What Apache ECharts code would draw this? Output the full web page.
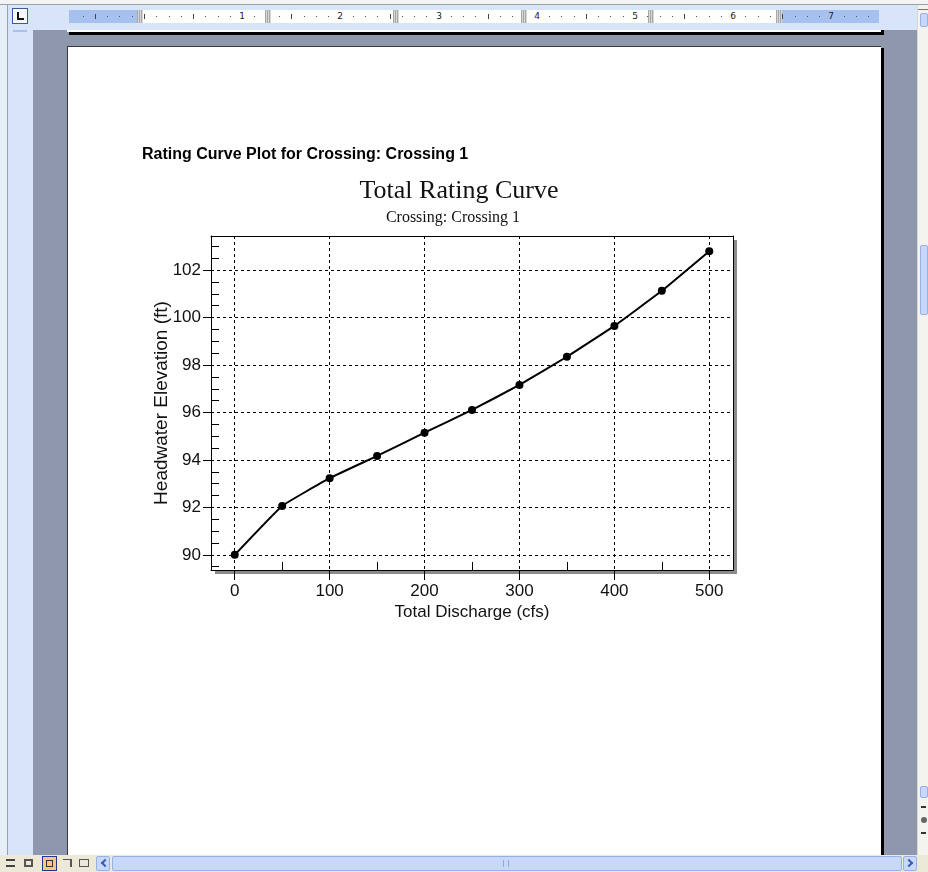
<!DOCTYPE html>
<html>
<head>
<meta charset="utf-8">
<script src="https://cdn.jsdelivr.net/npm/echarts@6/dist/echarts.min.js"></script>
<style>
  html, body { margin: 0; padding: 0; }
  body { width: 928px; height: 872px; overflow: hidden; position: relative; background: #8e97ac; font-family: 'DejaVu Sans', sans-serif; }
  .a { position: absolute; box-sizing: border-box; }
  #chart { position: absolute; left: 0; top: 0; width: 928px; height: 872px; z-index: 10; }
  .rnum { position: absolute; top: 10px; height: 13px; line-height: 13px; font-size: 9px; color: #222; width: 10px; margin-left: -5px; text-align: center; }
  .btn { background: #c8d8fb; border: 1px solid #98b1e4; border-radius: 2px; }
</style>
</head>
<body>
<!-- window frame and ruler strip -->
<div class="a" style="left:0;top:0;width:928px;height:4px;background:#f4f4f4;"></div>
<div class="a" style="left:0;top:4px;width:928px;height:1px;background:#9aa0a8;"></div>
<div class="a" style="left:0;top:5px;width:928px;height:25px;background:#d8e4f8;"></div>
<div class="a" style="left:0;top:5px;width:7px;height:850px;background:#e6eefa;"></div>
<div class="a" style="left:7px;top:5px;width:1px;height:850px;background:#9aa0a8;"></div>
<div class="a" style="left:8px;top:30px;width:25px;height:825px;background:#d8e4f8;"></div>
<div class="a" style="left:13px;top:30px;width:14px;height:2px;background:#a5c0f0;"></div>
<!-- tab selector -->
<div class="a" style="left:12px;top:8px;width:16px;height:16px;background:#f6f9ff;border:1px solid #3b5b9a;"></div>
<div class="a" style="left:17px;top:12px;width:2px;height:8px;background:#111;"></div>
<div class="a" style="left:17px;top:18px;width:7px;height:2px;background:#111;"></div>
<!-- horizontal ruler -->
<div class="a" style="left:69px;top:10px;width:810px;height:13px;background:#a6c0f0;"></div>
<div class="a" style="left:143px;top:10px;width:636px;height:13px;background:#ffffff;"></div>
<div id="rulerMarks"></div>
<!-- previous page edge -->
<div class="a" style="left:67px;top:30px;width:814px;height:2px;background:#ffffff;"></div>
<div class="a" style="left:69px;top:32px;width:815px;height:3px;background:#000;"></div>
<div class="a" style="left:881px;top:30px;width:3px;height:5px;background:#000;"></div>
<!-- current page -->
<div class="a" style="left:67px;top:46px;width:814px;height:809px;background:#fff;border-top:1px solid #3a3a3a;border-left:1px solid #3a3a3a;"></div>
<div class="a" style="left:881px;top:48px;width:3px;height:807px;background:#000;"></div>
<!-- vertical scrollbar -->
<div class="a" style="left:917px;top:5px;width:11px;height:850px;background:#f4f3ee;border-left:1px solid #d8d8d0;"></div>
<div class="a" style="left:918px;top:9px;width:10px;height:1px;background:#777;"></div>
<div class="a btn" style="left:920px;top:13px;width:8px;height:14px;"></div>
<div class="a btn" style="left:920px;top:245px;width:8px;height:70px;"></div>
<div class="a btn" style="left:920px;top:786px;width:8px;height:12px;"></div>
<div class="a" style="left:921px;top:806px;width:5px;height:5px;border-top:2px solid #333;"></div>
<div class="a" style="left:921px;top:817px;width:6px;height:6px;border-radius:3px;background:#666;"></div>
<div class="a" style="left:921px;top:829px;width:5px;height:5px;border-bottom:2px solid #333;"></div>
<!-- status / view bar -->
<div class="a" style="left:0;top:855px;width:928px;height:17px;background:#ece9d8;"></div>
<div class="a" style="left:6px;top:859px;width:9px;height:8px;border-top:2px solid #444;border-bottom:2px solid #444;"></div>
<div class="a" style="left:24px;top:859px;width:9px;height:8px;border:2px solid #555;"></div>
<div class="a" style="left:42px;top:856px;width:15px;height:15px;background:#ffc57a;border:1px solid #24358a;"></div>
<div class="a" style="left:46px;top:860px;width:7px;height:7px;border:1px solid #333;"></div>
<div class="a" style="left:63px;top:859px;width:9px;height:8px;border-right:2px solid #555;border-top:1px solid #555;"></div>
<div class="a" style="left:79px;top:859px;width:10px;height:8px;border:1px solid #555;"></div>
<div class="a btn" style="left:96px;top:856px;width:14px;height:15px;"></div>
<div class="a" style="left:102px;top:860px;width:6px;height:6px;border-left:2px solid #3a5fb0;border-bottom:2px solid #3a5fb0;transform:rotate(45deg);"></div>
<div class="a btn" style="left:112px;top:856px;width:790px;height:15px;"></div>
<div class="a" style="left:503px;top:860px;width:6px;height:7px;border-left:1px solid #8ea9e0;border-right:1px solid #8ea9e0;"></div>
<div class="a btn" style="left:903px;top:856px;width:14px;height:15px;"></div>
<div class="a" style="left:906px;top:860px;width:6px;height:6px;border-right:2px solid #3a5fb0;border-top:2px solid #3a5fb0;transform:rotate(45deg);"></div>

<div id="chart"></div>

<script>
// Rating curve data: total discharge (cfs) vs headwater elevation (ft)
const discharge = [0, 50, 100, 150, 200, 250, 300, 350, 400, 450, 500];
const elevation = [90.00, 92.06, 93.23, 94.17, 95.15, 96.11, 97.16, 98.35, 99.65, 101.13, 102.80];

// Tick positions
const xTickValues = [0, 100, 200, 300, 400, 500];
const xMinorTickValues = [50, 150, 250, 350, 450];
const yTickValues = [90, 92, 94, 96, 98, 100, 102];
const yMinorTickValues = [89.5, 90.5, 91, 91.5, 92.5, 93, 93.5, 94.5, 95, 95.5, 96.5, 97, 97.5,
  98.5, 99, 99.5, 100.5, 101, 101.5, 102.5, 103];

// Page ruler: eighth-inch dots, half-inch bars, inch numbers
const rulerInches = [1, 2, 3, 4, 5, 6, 7];
(function buildRuler() {
  const host = document.getElementById('rulerMarks');
  const zero = 144, inch = 98.2;
  for (let n = -6; n <= 60; n++) {
    const x = zero + n * inch / 8;
    if (x < 71 || x > 877) continue;
    if (n % 8 === 0 && n > 0) continue;
    const d = document.createElement('div');
    d.className = 'a';
    if (n % 4 === 0) {
      d.style.cssText = 'left:' + Math.round(x) + 'px;top:14px;width:1px;height:5px;background:#444;';
    } else {
      d.style.cssText = 'left:' + Math.round(x) + 'px;top:16px;width:1px;height:1px;background:#555;';
    }
    host.appendChild(d);
  }
  rulerInches.forEach(function (k) {
    const s = document.createElement('div');
    s.className = 'rnum';
    s.style.left = Math.round(zero + k * inch) + 'px';
    s.textContent = String(k);
    host.appendChild(s);
  });
  [140, 268, 396, 524, 651, 779].forEach(function (x) {
    const m = document.createElement('div');
    m.className = 'a';
    m.style.cssText = 'left:' + (x - 3) + 'px;top:10px;width:6px;height:13px;background:repeating-linear-gradient(90deg,#a8a8a8 0 1px,#d6d6d6 1px 2px);';
    host.appendChild(m);
  });
})();

const chart = echarts.init(document.getElementById('chart'), null, { renderer: 'canvas' });

const xSpan = Math.max(...discharge) - Math.min(...discharge);
const ySpan = Math.max(...elevation) - Math.min(...elevation);
const xMin = Math.min(...discharge) - xSpan * 0.05;
const xMax = Math.max(...discharge) + xSpan * 0.05;
const yMin = Math.min(...elevation) - ySpan * 0.05;
const yMax = Math.max(...elevation) + ySpan * 0.05;

const sans = "'Liberation Sans', Arial, sans-serif";
const serif = "'Liberation Serif', 'Times New Roman', serif";
const dash = { color: '#000', type: [3, 3], width: 1 };
const frameLine = { show: true, onZero: false, lineStyle: { color: '#000', width: 1 } };

// axis that only draws the frame line on its side
function frameAxis(position, min, max) {
  return {
    type: 'value', position: position, min: min, max: max,
    axisLine: frameLine, axisTick: { show: false }, axisLabel: { show: false }, splitLine: { show: false }
  };
}
// axis that only draws inward minor ticks
function minorAxis(position, min, max, values) {
  return {
    type: 'value', position: position, min: min, max: max,
    axisLine: { show: false, onZero: false },
    axisTick: { show: true, inside: true, length: 8, customValues: values, lineStyle: { color: '#000' } },
    axisLabel: { show: false }, splitLine: { show: false }
  };
}

const option = {
  animation: false,
  backgroundColor: 'transparent',
  graphic: [
    { type: 'text', left: 142, top: 147, style: { text: 'Rating Curve Plot for Crossing: Crossing 1', font: 'bold 16px ' + sans, fill: '#000' } },
    { type: 'text', x: 459, y: 191, style: { text: 'Total Rating Curve', font: '26px ' + serif, fill: '#111', align: 'center', verticalAlign: 'middle' } },
    { type: 'text', x: 453, y: 218, style: { text: 'Crossing: Crossing 1', font: '16px ' + serif, fill: '#111', align: 'center', verticalAlign: 'middle' } }
  ],
  grid: {
    left: 211, top: 236, width: 522, height: 334,
    show: true, backgroundColor: '#fff', borderWidth: 0,
    shadowColor: '#8a8a8a', shadowOffsetX: 4, shadowOffsetY: 4, shadowBlur: 0
  },
  xAxis: [
    {
      type: 'value', position: 'bottom', min: xMin, max: xMax, minInterval: 100, maxInterval: 100,
      axisLine: frameLine,
      axisTick: { show: true, inside: false, length: 10, customValues: xTickValues, lineStyle: { color: '#000' } },
      axisLabel: { customValues: xTickValues, margin: 13, fontSize: 17, fontFamily: sans, color: '#111' },
      splitLine: { show: true, lineStyle: dash },
      name: 'Total Discharge (cfs)', nameLocation: 'middle', nameGap: 34, nameMoveOverlap: false,
      nameTextStyle: { fontSize: 17, fontFamily: sans, color: '#111' }
    },
    minorAxis('bottom', xMin, xMax, xMinorTickValues),
    frameAxis('top', xMin, xMax)
  ],
  yAxis: [
    {
      type: 'value', position: 'left', min: yMin, max: yMax, minInterval: 2, maxInterval: 2,
      axisLine: frameLine,
      axisTick: { show: true, inside: false, length: 8, customValues: yTickValues, lineStyle: { color: '#000' } },
      axisLabel: { customValues: yTickValues, margin: 10, fontSize: 17, fontFamily: sans, color: '#111' },
      splitLine: { show: true, lineStyle: dash },
      name: 'Headwater Elevation (ft)', nameLocation: 'middle', nameGap: 40, nameMoveOverlap: false,
      nameTextStyle: { fontSize: 19, fontFamily: sans, color: '#111' }
    },
    minorAxis('left', yMin, yMax, yMinorTickValues),
    frameAxis('right', yMin, yMax)
  ],
  series: [{
    type: 'line', xAxisIndex: 0, yAxisIndex: 0,
    data: discharge.map(function (q, i) { return [q, elevation[i]]; }),
    smooth: 0.1, symbol: 'circle', symbolSize: 8, showSymbol: true,
    lineStyle: { color: '#000', width: 2 }, itemStyle: { color: '#000' }, z: 5
  }]
};
chart.setOption(option);
</script>
</body>
</html>
